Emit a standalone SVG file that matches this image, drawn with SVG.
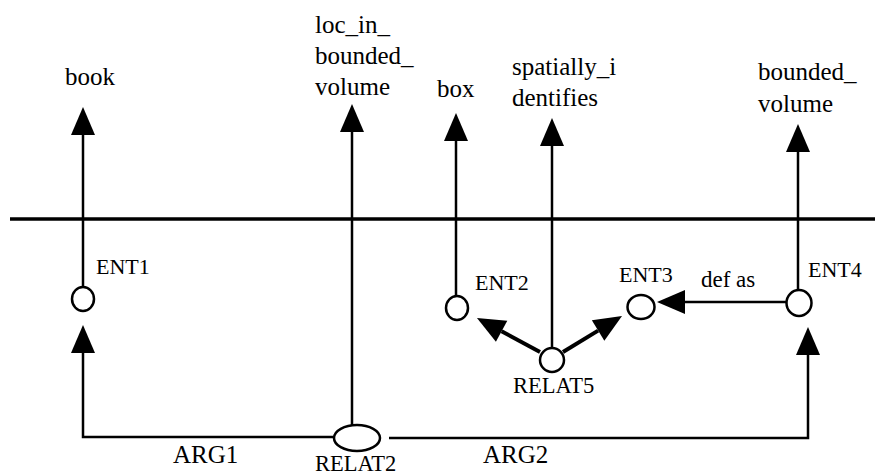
<svg xmlns="http://www.w3.org/2000/svg" width="875" height="475" viewBox="0 0 875 475">
<style>
text{font-family:'Liberation Serif','Times New Roman',Tinos,'DejaVu Serif',serif;font-size:25px;fill:#000}
.ent{font-size:22px}
.rel{font-size:22.5px}
.def{font-size:23px}
.arg{font-size:25px}
.ln{fill:none;stroke:#000;stroke-width:2.5}
.thick{fill:none;stroke:#000;stroke-width:4}
.node{fill:#fff;stroke:#000;stroke-width:2.5}
</style>
<defs>
<marker id="ah" markerUnits="userSpaceOnUse" markerWidth="30" markerHeight="26" refX="0" refY="12" orient="auto" overflow="visible">
<path d="M0,0 L28,12 L0,24 z" fill="#000"/>
</marker>
</defs>
<rect width="875" height="475" fill="#fff"/>
<line x1="10" y1="219" x2="875" y2="219" stroke="#000" stroke-width="3.5"/>
<g id="labels-top">
<text x="65" y="85">book</text>
<text x="315" y="33">loc_in_</text>
<text x="315" y="64">bounded_</text>
<text x="315" y="95">volume</text>
<text x="437" y="97">box</text>
<text x="512" y="75">spatially_i</text>
<text x="512" y="106">dentifies</text>
<text x="758" y="80">bounded_</text>
<text x="758" y="112">volume</text>
</g>
<g id="connectors">
<line class="ln" x1="83" y1="287" x2="83" y2="135" marker-end="url(#ah)"/>
<line class="ln" x1="352" y1="425" x2="352" y2="132" marker-end="url(#ah)"/>
<line class="ln" x1="456" y1="295" x2="456" y2="141" marker-end="url(#ah)"/>
<line class="ln" x1="552" y1="348" x2="552" y2="146" marker-end="url(#ah)"/>
<line class="ln" x1="798" y1="290" x2="798" y2="152" marker-end="url(#ah)"/>
<path class="ln" d="M333,437 H83 V353" marker-end="url(#ah)"/>
<path class="ln" d="M389,438 H808 V355" marker-end="url(#ah)"/>
<line class="ln" x1="786" y1="302" x2="685" y2="302" marker-end="url(#ah)"/>
<line class="thick" x1="540" y1="352" x2="501.6" y2="331.3" marker-end="url(#ah)"/>
<line class="thick" x1="563" y1="352" x2="598.1" y2="330.6" marker-end="url(#ah)"/>
<text x="173" y="463" class="arg">ARG1</text>
<text x="483" y="463" class="arg">ARG2</text>
<text x="701" y="287" class="def">def as</text>
</g>
<g id="ENT1"><ellipse class="node" cx="83" cy="299" rx="11" ry="12"/><text class="ent" x="96" y="274">ENT1</text></g>
<g id="ENT2"><ellipse class="node" cx="457" cy="308" rx="11" ry="12"/><text class="ent" x="475" y="290">ENT2</text></g>
<g id="ENT3"><ellipse class="node" cx="641" cy="307" rx="13.5" ry="12"/><text class="ent" x="619" y="282">ENT3</text></g>
<g id="ENT4"><ellipse class="node" cx="799" cy="303" rx="12.5" ry="13"/><text class="ent" x="808" y="277">ENT4</text></g>
<g id="RELAT5"><ellipse class="node" cx="552" cy="360" rx="12" ry="12"/><text class="rel" x="513" y="393">RELAT5</text></g>
<g id="RELAT2"><ellipse class="node" cx="357" cy="438" rx="23" ry="13"/><text class="rel" x="315" y="471">RELAT2</text></g>
</svg>
